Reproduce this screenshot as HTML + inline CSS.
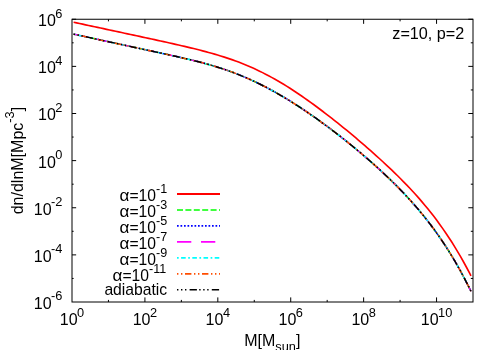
<!DOCTYPE html>
<html lang="en"><head><meta charset="utf-8"><title>Halo mass function dn/dlnM vs M, z=10, p=2</title>
<style>
html,body{margin:0;padding:0;background:#fff;width:500px;height:350px;overflow:hidden;}
svg{display:block;will-change:transform;}
text{font-family:"Liberation Sans",sans-serif;font-size:16px;fill:#000;}
</style></head>
<body>
<svg width="500" height="350" viewBox="0 0 500 350">
<defs><path id="cb" d="M73.6,34.14 L76.6,34.79 L79.6,35.44 L82.6,36.09 L85.6,36.74 L88.6,37.39 L91.6,38.05 L94.6,38.70 L97.6,39.35 L100.6,40.00 L103.6,40.65 L106.6,41.31 L109.6,41.96 L112.6,42.61 L115.6,43.26 L118.6,43.91 L121.6,44.57 L124.6,45.22 L127.6,45.87 L130.6,46.52 L133.6,47.17 L136.6,47.82 L139.6,48.48 L142.6,49.13 L145.6,49.78 L148.6,50.43 L151.6,51.08 L154.6,51.74 L157.6,52.39 L160.6,53.04 L163.6,53.70 L166.6,54.35 L169.6,55.01 L172.6,55.68 L175.6,56.35 L178.6,57.02 L181.6,57.70 L184.6,58.40 L187.6,59.10 L190.6,59.81 L193.6,60.55 L196.6,61.29 L199.6,62.06 L202.6,62.85 L205.6,63.66 L208.6,64.49 L211.6,65.36 L214.6,66.25 L217.6,67.17 L220.6,68.12 L223.6,69.11 L226.6,70.13 L229.6,71.19 L232.6,72.29 L235.6,73.42 L238.6,74.60 L241.6,75.82 L244.6,77.07 L247.6,78.37 L250.6,79.71 L253.6,81.09 L256.6,82.51 L259.6,83.97 L262.6,85.47 L265.6,87.01 L268.6,88.59 L271.6,90.22 L274.6,91.87 L277.6,93.57 L280.6,95.31 L283.6,97.08 L286.6,98.88 L289.6,100.72 L292.6,102.59 L295.6,104.50 L298.6,106.44 L301.6,108.41 L304.6,110.41 L307.6,112.44 L310.6,114.51 L313.6,116.60 L316.6,118.71 L319.6,120.86 L322.6,123.04 L325.6,125.24 L328.6,127.46 L331.6,129.72 L334.6,132.00 L337.6,134.31 L340.6,136.65 L343.6,139.01 L346.6,141.39 L349.6,143.81 L352.6,146.25 L355.6,148.72 L358.6,151.22 L361.6,153.75 L364.6,156.31 L367.6,158.90 L370.6,161.52 L373.6,164.18 L376.6,166.87 L379.6,169.60 L382.6,172.37 L385.6,175.18 L388.6,178.04 L391.6,180.94 L394.6,183.89 L397.6,186.90 L400.6,189.97 L403.6,193.09 L406.6,196.28 L409.6,199.54 L412.6,202.88 L415.6,206.29 L418.6,209.80 L421.6,213.39 L424.6,217.07 L427.6,220.87 L430.6,224.76 L433.6,228.78 L436.6,232.92 L439.6,237.18 L442.6,241.59 L445.6,246.13 L448.6,250.82 L451.6,255.67 L454.6,260.69 L457.6,265.88 L460.6,271.24 L463.6,276.79 L466.6,282.54 L469.6,288.48 L471.0,291.33"/></defs>
<rect width="500" height="350" fill="#fff"/>
<g fill="none" stroke="#000" stroke-width="1">
<path d="M108.45,302.0 v-2.1 M108.45,19.25 v2.1 M144.91,302.0 v-4.6 M144.91,19.25 v4.6 M181.36,302.0 v-2.1 M181.36,19.25 v2.1 M217.82,302.0 v-4.6 M217.82,19.25 v4.6 M254.27,302.0 v-2.1 M254.27,19.25 v2.1 M290.73,302.0 v-4.6 M290.73,19.25 v4.6 M327.18,302.0 v-2.1 M327.18,19.25 v2.1 M363.64,302.0 v-4.6 M363.64,19.25 v4.6 M400.09,302.0 v-2.1 M400.09,19.25 v2.1 M436.55,302.0 v-4.6 M436.55,19.25 v4.6 M72.0,19.25 h4.15 M473.0,19.25 h-4.70 M72.0,42.81 h1.65 M473.0,42.81 h-2.20 M72.0,66.38 h4.15 M473.0,66.38 h-4.70 M72.0,89.94 h1.65 M473.0,89.94 h-2.20 M72.0,113.50 h4.15 M473.0,113.50 h-4.70 M72.0,137.06 h1.65 M473.0,137.06 h-2.20 M72.0,160.62 h4.15 M473.0,160.62 h-4.70 M72.0,184.19 h1.65 M473.0,184.19 h-2.20 M72.0,207.75 h4.15 M473.0,207.75 h-4.70 M72.0,231.31 h1.65 M473.0,231.31 h-2.20 M72.0,254.88 h4.15 M473.0,254.88 h-4.70 M72.0,278.44 h1.65 M473.0,278.44 h-2.20"/>
<rect x="72.0" y="19.25" width="401.00" height="282.75"/>
</g>
<g id="txt">
<text x="72.00" y="325" text-anchor="middle">10<tspan dx="-0.5" dy="-8.2" font-size="12.8">0</tspan></text>
<text x="144.91" y="325" text-anchor="middle">10<tspan dx="-0.5" dy="-8.2" font-size="12.8">2</tspan></text>
<text x="217.82" y="325" text-anchor="middle">10<tspan dx="-0.5" dy="-8.2" font-size="12.8">4</tspan></text>
<text x="290.73" y="325" text-anchor="middle">10<tspan dx="-0.5" dy="-8.2" font-size="12.8">6</tspan></text>
<text x="363.64" y="325" text-anchor="middle">10<tspan dx="-0.5" dy="-8.2" font-size="12.8">8</tspan></text>
<text x="436.55" y="325" text-anchor="middle">10<tspan dx="-0.5" dy="-8.2" font-size="12.8">10</tspan></text>
<text x="62.3" y="26.15" text-anchor="end">10<tspan dx="-0.7" dy="-8.5" font-size="12.8">6</tspan></text>
<text x="62.3" y="73.28" text-anchor="end">10<tspan dx="-0.7" dy="-8.5" font-size="12.8">4</tspan></text>
<text x="62.3" y="120.40" text-anchor="end">10<tspan dx="-0.7" dy="-8.5" font-size="12.8">2</tspan></text>
<text x="62.3" y="167.53" text-anchor="end">10<tspan dx="-0.7" dy="-8.5" font-size="12.8">0</tspan></text>
<text x="62.3" y="214.65" text-anchor="end">10<tspan dx="-0.7" dy="-8.5" font-size="12.8">-2</tspan></text>
<text x="62.3" y="261.77" text-anchor="end">10<tspan dx="-0.7" dy="-8.5" font-size="12.8">-4</tspan></text>
<text x="62.3" y="308.90" text-anchor="end">10<tspan dx="-0.7" dy="-8.5" font-size="12.8">-6</tspan></text>
</g>
<text x="392.3" y="38.6" style="font-size:16.2px">z=10, p=2</text>
<text x="244.2" y="345.7">M[M<tspan dy="4.8" font-size="12.8">sun</tspan><tspan dy="-4.8">]</tspan></text>
<text transform="translate(22.9,214.3) rotate(-90)">dn/dlnM[Mpc<tspan dy="-8.8" font-size="12.8">-3</tspan><tspan dy="8.8">]</tspan></text>
<g fill="none" stroke-width="1.65">
<text x="119.50" y="201.20" style="font-size:15.7px"><tspan textLength="9.91" lengthAdjust="spacingAndGlyphs">α</tspan>=10<tspan dy="-7.8" font-size="12.56">-1</tspan></text>
<path d="M177,194.00 H220" stroke="#ff0000" stroke-width="1.85"/>
<text x="119.50" y="217.16" style="font-size:15.7px"><tspan textLength="9.91" lengthAdjust="spacingAndGlyphs">α</tspan>=10<tspan dy="-7.8" font-size="12.56">-3</tspan></text>
<path d="M177,209.96 H220" stroke="#00ff00" stroke-dasharray="6 2.4"/>
<text x="119.50" y="233.12" style="font-size:15.7px"><tspan textLength="9.91" lengthAdjust="spacingAndGlyphs">α</tspan>=10<tspan dy="-7.8" font-size="12.56">-5</tspan></text>
<path d="M177,225.92 H220" stroke="#0000ff" stroke-dasharray="1.7 1.8"/>
<text x="119.50" y="249.08" style="font-size:15.7px"><tspan textLength="9.91" lengthAdjust="spacingAndGlyphs">α</tspan>=10<tspan dy="-7.8" font-size="12.56">-7</tspan></text>
<path d="M177,241.88 H220" stroke="#ff00ff" stroke-dasharray="14.3 9.7"/>
<text x="119.50" y="265.04" style="font-size:15.7px"><tspan textLength="9.91" lengthAdjust="spacingAndGlyphs">α</tspan>=10<tspan dy="-7.8" font-size="12.56">-9</tspan></text>
<path d="M177,257.84 H220" stroke="#00ffff" stroke-dasharray="1.7 2.4 4.6 2.5"/>
<text x="112.52" y="281.00" style="font-size:15.7px"><tspan textLength="9.91" lengthAdjust="spacingAndGlyphs">α</tspan>=10<tspan dy="-7.8" font-size="12.56">-11</tspan></text>
<path d="M177,273.80 H220" stroke="#ff4d00" stroke-dasharray="1.4 2.6 1.4 2.6 6.4 2.6"/>
<text x="167.2" y="294.61" text-anchor="end" style="font-size:15.7px">adiabatic</text>
<path d="M177,289.76 H220" stroke="#000000" stroke-dasharray="1.4 2.6 1.4 2.6 1.4 3.2 7.3 2.3"/>
</g>
<g fill="none" stroke-width="1.5" stroke-linejoin="round">
<path d="M73.6,22.27 L76.6,22.90 L79.6,23.54 L82.6,24.18 L85.6,24.82 L88.6,25.46 L91.6,26.10 L94.6,26.75 L97.6,27.39 L100.6,28.03 L103.6,28.67 L106.6,29.32 L109.6,29.96 L112.6,30.61 L115.6,31.25 L118.6,31.90 L121.6,32.54 L124.6,33.19 L127.6,33.83 L130.6,34.48 L133.6,35.13 L136.6,35.77 L139.6,36.42 L142.6,37.07 L145.6,37.72 L148.6,38.37 L151.6,39.02 L154.6,39.68 L157.6,40.33 L160.6,40.99 L163.6,41.65 L166.6,42.31 L169.6,42.98 L172.6,43.65 L175.6,44.33 L178.6,45.01 L181.6,45.70 L184.6,46.40 L187.6,47.11 L190.6,47.83 L193.6,48.56 L196.6,49.30 L199.6,50.06 L202.6,50.84 L205.6,51.63 L208.6,52.44 L211.6,53.28 L214.6,54.13 L217.6,55.02 L220.6,55.93 L223.6,56.87 L226.6,57.85 L229.6,58.86 L232.6,59.90 L235.6,60.98 L238.6,62.10 L241.6,63.26 L244.6,64.46 L247.6,65.71 L250.6,67.00 L253.6,68.34 L256.6,69.72 L259.6,71.15 L262.6,72.63 L265.6,74.16 L268.6,75.73 L271.6,77.36 L274.6,79.03 L277.6,80.74 L280.6,82.50 L283.6,84.31 L286.6,86.16 L289.6,88.05 L292.6,89.99 L295.6,91.96 L298.6,93.97 L301.6,96.02 L304.6,98.10 L307.6,100.22 L310.6,102.36 L313.6,104.54 L316.6,106.75 L319.6,108.99 L322.6,111.25 L325.6,113.54 L328.6,115.85 L331.6,118.19 L334.6,120.55 L337.6,122.94 L340.6,125.34 L343.6,127.77 L346.6,130.23 L349.6,132.70 L352.6,135.20 L355.6,137.72 L358.6,140.26 L361.6,142.83 L364.6,145.42 L367.6,148.03 L370.6,150.67 L373.6,153.33 L376.6,156.02 L379.6,158.74 L382.6,161.49 L385.6,164.27 L388.6,167.09 L391.6,169.94 L394.6,172.84 L397.6,175.78 L400.6,178.76 L403.6,181.80 L406.6,184.89 L409.6,188.04 L412.6,191.26 L415.6,194.55 L418.6,197.92 L421.6,201.37 L424.6,204.91 L427.6,208.54 L430.6,212.27 L433.6,216.11 L436.6,220.07 L439.6,224.15 L442.6,228.36 L445.6,232.70 L448.6,237.19 L451.6,241.82 L454.6,246.61 L457.6,251.57 L460.6,256.70 L463.6,262.01 L466.6,267.51 L469.6,273.20 L471.0,275.92" stroke="#ff0000" stroke-width="1.65"/>
<use href="#cb" stroke="#00ff00" stroke-dasharray="6 2.4"/>
<use href="#cb" stroke="#0000ff" stroke-dasharray="1.7 1.8"/>
<use href="#cb" stroke="#ff00ff" stroke-dasharray="14.3 9.7"/>
<use href="#cb" stroke="#00ffff" stroke-dasharray="1.7 2.4 4.6 2.5"/>
<use href="#cb" stroke="#ff4d00" stroke-dasharray="1.4 2.6 1.4 2.6 6.4 2.6"/>
<use href="#cb" stroke="#000000" stroke-dasharray="1.4 2.6 1.4 2.6 1.4 3.2 7.3 2.3"/>
</g>
</svg>
</body></html>
